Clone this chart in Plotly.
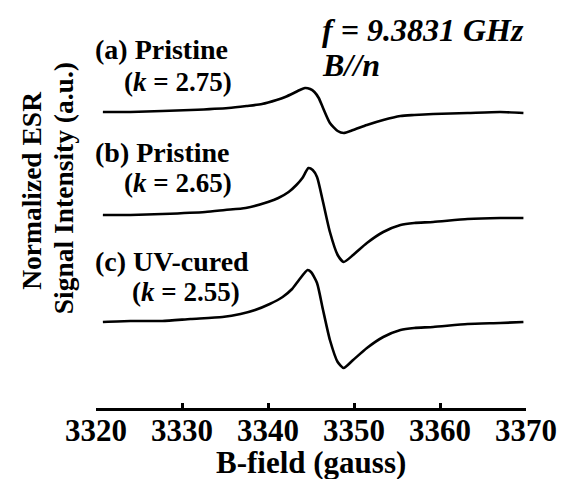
import plotly.graph_objects as go

# ---- data ----
field_a = [3320.8, 3324, 3327.7, 3331, 3335.4, 3337.5, 3339.3, 3341, 3342.0, 3343.0, 3343.7, 3344.3,
           3344.9, 3345.4, 3345.9, 3346.4, 3347.2, 3348.1, 3348.8, 3349.9, 3351.5, 3353.4, 3355.4,
           3357, 3359.2, 3363.2, 3367.0, 3369.7]
signal_a = [1, 1, 2, 3, 5, 7, 9, 13, 16, 20, 23, 25, 24, 21, 15, 5, -10, -18, -20, -17, -12, -7, -3,
            -2, -1, 0, 1, 0]

field_b = [3320.8, 3324, 3327.7, 3332.7, 3335, 3337.4, 3340.0, 3341.2, 3342.4, 3343.3, 3344.0, 3344.7,
           3345.2, 3345.7, 3346.4, 3347.2, 3348.1, 3348.8, 3349.9, 3351.5, 3353.4, 3355.4, 3357,
           3359.2, 3363.2, 3367.0, 3369.7]
signal_b = [1, 1, 2, 4, 6, 8, 14, 18, 24, 31, 38, 48, 46, 39, 14, -16, -39, -46, -39, -27, -16, -9, -7,
            -6, -3, -2, -2]

field_c = [3320.8, 3324, 3327.7, 3331, 3334.7, 3336.8, 3338.5, 3340.2, 3341.7, 3342.8, 3343.6, 3344.6,
           3345.0, 3345.7, 3346.4, 3347.2, 3348.1, 3348.8, 3349.9, 3351.5, 3353.4, 3355.4, 3357,
           3359.2, 3363.2, 3367.0, 3369.7]
signal_c = [0, 1, 1, 3, 5, 8, 12, 18, 25, 33, 42, 52, 50, 39, 12, -18, -40, -46, -38, -26, -15, -8, -6,
            -5, -2, -1, 0]

offsets = [209, 106, 0]          # vertical stacking offsets (a.u.)
x_ticks = [3320, 3330, 3340, 3350, 3360, 3370]
labels = ["(a) Pristine", "(b) Pristine", "(c) UV-cured"]
k_labels = ["(<i>k</i> = 2.75)", "(<i>k</i> = 2.65)", "(<i>k</i> = 2.55)"]

SERIF = "Liberation Serif, Times New Roman, serif"

fig = go.Figure()
for fx, sy, off in zip([field_a, field_b, field_c], [signal_a, signal_b, signal_c], offsets):
    fig.add_trace(go.Scatter(
        x=fx, y=[v + off for v in sy], mode="lines",
        line=dict(color="black", width=2.6, shape="spline", smoothing=0.6),
        showlegend=False, hoverinfo="skip"))

ann = []
label_pos = [(-0.007, 0.8995), (-0.007, 0.643), (-0.007, 0.367)]
k_pos = [(3323.03, 240), (3323.03, 139), (3323.96, 30)]
for t, (x, y) in zip(labels, label_pos):
    ann.append(dict(x=x, y=y, xref="paper", yref="paper", text=t, showarrow=False, xanchor="left",
                    yanchor="middle", font=dict(family=SERIF, size=28, color="black", weight="bold")))
for t, (x, y) in zip(k_labels, k_pos):
    ann.append(dict(x=x, y=y, xref="x", yref="y", text=t, showarrow=False, xanchor="left",
                    yanchor="middle", font=dict(family=SERIF, size=27, color="black", weight="bold")))
ann.append(dict(x=3346.08, y=292, xref="x", yref="y", text="f = 9.3831 GHz", showarrow=False,
                xanchor="left", yanchor="middle",
                font=dict(family=SERIF, size=32, color="black", weight="bold", style="italic")))
ann.append(dict(x=3346.08, y=257, xref="x", yref="y", text="B//n", showarrow=False,
                xanchor="left", yanchor="middle",
                font=dict(family=SERIF, size=32, color="black", weight="bold", style="italic")))
# y-axis title (two lines)
ann.append(dict(x=-0.149, y=0.548, xref="paper", yref="paper", text="Normalized ESR", showarrow=False,
                textangle=-90, xanchor="center", yanchor="middle",
                font=dict(family=SERIF, size=27.5, color="black", weight="bold")))
ann.append(dict(x=-0.077, y=0.552, xref="paper", yref="paper", text="Signal Intensity (a.u.)",
                showarrow=False, textangle=-90, xanchor="center", yanchor="middle",
                font=dict(family=SERIF, size=27.5, color="black", weight="bold")))
# x-axis title
ann.append(dict(x=0.5, y=-0.138, xref="paper", yref="paper", text="B-field (gauss)", showarrow=False,
                xanchor="center", yanchor="middle",
                font=dict(family=SERIF, size=31, color="black", weight="bold")))

fig.update_layout(
    width=566, height=479,
    margin=dict(l=96, r=40, t=10, b=71, autoexpand=False),
    paper_bgcolor="white", plot_bgcolor="white",
    annotations=ann,
    xaxis=dict(range=[3320, 3370], tickvals=x_ticks, ticks="inside", ticklen=5, tickwidth=2.5,
               tickcolor="black", showline=True, linecolor="black", linewidth=3, showgrid=False,
               zeroline=False, ticklabelstandoff=-7, automargin=False,
               tickfont=dict(family=SERIF, size=31, color="black", weight="bold")),
    yaxis=dict(range=[-86, 312], visible=False, showgrid=False, zeroline=False, automargin=False),
)

fig.write_html("out.html", config={"displayModeBar": False},
               post_script="document.body.style.margin='0';document.body.style.padding='0';")
